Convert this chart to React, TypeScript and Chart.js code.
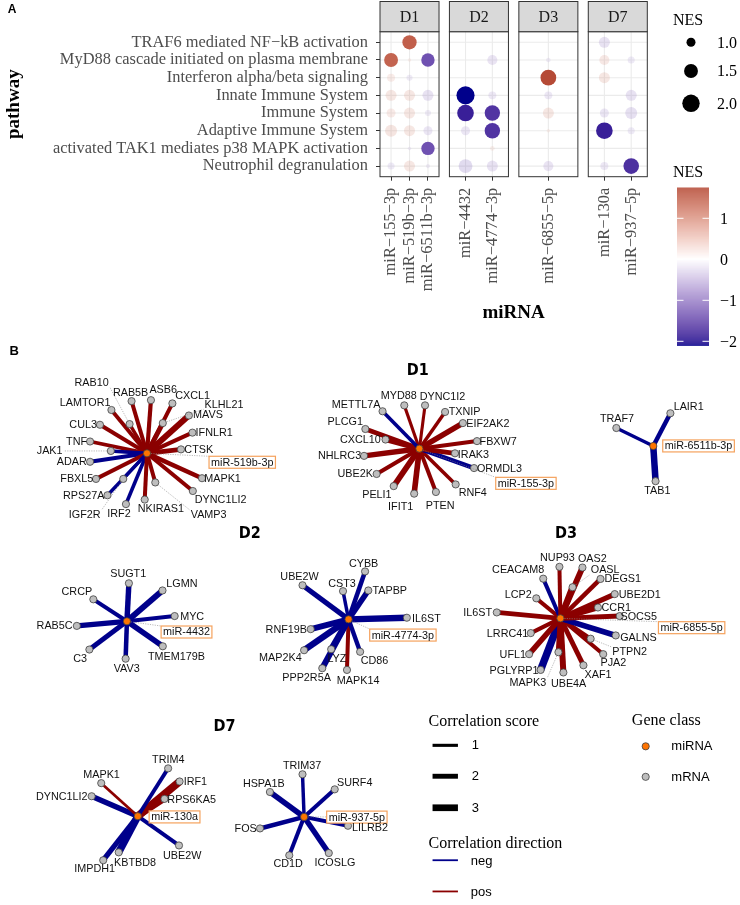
import React, { useEffect, useRef } from "react";
import { Chart, registerables } from "chart.js";
Chart.register(...registerables);

// ================= Panel A data =================
const pathways = [
  "TRAF6 mediated NF−kB activation",
  "MyD88 cascade initiated on plasma membrane",
  "Interferon alpha/beta signaling",
  "Innate Immune System",
  "Immune System",
  "Adaptive Immune System",
  "activated TAK1 mediates p38 MAPK activation",
  "Neutrophil degranulation",
];
const facets = ["D1", "D2", "D3", "D7"];
const mirnasD1 = ["miR−155−3p", "miR−519b−3p", "miR−6511b−3p"];
const mirnasD2 = ["miR−4432", "miR−4774−3p"];
const mirnasD3 = ["miR−6855−5p"];
const mirnasD7 = ["miR−130a", "miR−937−5p"];

// NES for each pathway (pathways order); null = no value
const nes_miR155 = [null, 1.5, 0.92, 1.18, 1.0, 1.28, null, -0.86];
const nes_miR519b = [1.55, 0.69, -0.8, 1.18, 1.18, 1.18, -0.69, 1.18];
const nes_miR6511b = [null, -1.44, null, -1.18, -0.8, -1.0, -1.44, -0.71];
const nes_miR4432 = [null, null, null, -2.11, -1.88, -1.0, null, -1.5];
const nes_miR4774 = [null, -1.09, null, -0.92, -1.7, -1.7, 0.73, -1.18];
const nes_miR6855 = [null, -0.73, 1.75, -0.92, 1.18, 0.69, null, -1.09];
const nes_miR130a = [-1.18, 1.09, 1.18, null, -1.0, -1.88, null, -0.92];
const nes_miR937 = [null, -0.86, null, -1.18, -1.28, -0.86, null, -1.73];
// significance flags (1 = significant)
const sig_miR155 = [0, 1, 0, 0, 0, 0, 0, 0];
const sig_miR519b = [1, 0, 0, 0, 0, 0, 0, 0];
const sig_miR6511b = [0, 1, 0, 0, 0, 0, 1, 0];
const sig_miR4432 = [0, 0, 0, 1, 1, 0, 0, 0];
const sig_miR4774 = [0, 0, 0, 0, 1, 1, 0, 0];
const sig_miR6855 = [0, 0, 1, 0, 0, 0, 0, 0];
const sig_miR130a = [0, 0, 0, 0, 0, 1, 0, 0];
const sig_miR937 = [0, 0, 0, 0, 0, 0, 0, 1];

const sizeLegendValues = [1.0, 1.5, 2.0];
const colorbarTicks = [1, 0, -1, -2];

const facetMirnas = [mirnasD1, mirnasD2, mirnasD3, mirnasD7];
const facetNes = [
  [nes_miR155, nes_miR519b, nes_miR6511b],
  [nes_miR4432, nes_miR4774],
  [nes_miR6855],
  [nes_miR130a, nes_miR937],
];
const facetSig = [
  [sig_miR155, sig_miR519b, sig_miR6511b],
  [sig_miR4432, sig_miR4774],
  [sig_miR6855],
  [sig_miR130a, sig_miR937],
];

// ================= Panel B data (networks) =================
// direction: 1 = pos, -1 = neg ; layout: [nodeX, nodeY, labelX, labelY, leader]
const net519b_genes = ["RAB10", "RAB5B", "ASB6", "CXCL1", "KLHL21", "MAVS", "IFNLR1", "CTSK", "MAPK1", "DYNC1LI2", "VAMP3", "NKIRAS1", "IRF2", "IGF2R", "RPS27A", "FBXL5", "ADAR", "JAK1", "TNF", "CUL3", "LAMTOR1"];
const net519b_dir = [1, 1, 1, 1, 1, 1, 1, 1, 1, 1, 1, 1, -1, -1, -1, 1, -1, -1, 1, 1, 1];
const net519b_score = [1.2, 1.5, 1.6, 1.5, 2.0, 2.6, 1.6, 2.0, 1.8, 1.5, 1.5, 1.5, 1.3, 1.0, 1.2, 1.5, 1.5, 1.3, 1.4, 1.5, 1.4];
const net519b_hub = [144.3, 450.7, 240.7, 459.8, 1];
const net519b_layout = [
  [126.7, 421, 88.3, 378.3, 1], [128.7, 397.7, 127.7, 389.3, 0], [148.3, 396.7, 160.7, 385.7, 0],
  [170, 400, 190.5, 391.7, 0], [160.3, 420, 222.3, 401, 1], [186.7, 412.3, 206, 411.7, 0],
  [190.3, 429.7, 212.3, 429.3, 0], [178.7, 446.7, 196.7, 446.7, 0], [200, 476, 220.8, 476, 0],
  [190.7, 489, 218.8, 497.7, 0], [152.7, 480.3, 206.7, 513.3, 1], [142, 497.7, 158.3, 506.7, 0],
  [123, 502.3, 116, 512, 0], [120.3, 476.7, 81.3, 513.3, 1], [104.3, 493.3, 80.3, 493.3, 0],
  [92.7, 476.7, 73.3, 476.7, 0], [86.7, 459.3, 68.2, 459.3, 0], [107.7, 448.3, 45.8, 447.7, 1],
  [86.7, 438.7, 73, 438.7, 0], [96.7, 421.7, 79.7, 421.7, 0], [108.3, 406.7, 81.7, 399.3, 0],
];

const net155_genes = ["METTL7A", "MYD88", "DYNC1I2", "TXNIP", "EIF2AK2", "FBXW7", "IRAK3", "ORMDL3", "RNF4", "PTEN", "IFIT1", "PELI1", "UBE2K", "NHLRC3", "CXCL10", "PLCG1"];
const net155_dir = [-1, 1, 1, 1, 1, 1, 1, -1, 1, 1, 1, 1, 1, 1, 1, 1];
const net155_score = [1.3, 1.0, 1.0, 1.2, 2.4, 1.5, 2.0, 1.8, 1.3, 1.5, 2.4, 2.5, 1.6, 2.3, 2.2, 1.8];
const net155_hub = [420, 446, 527.8, 481.2, 1];
const net155_layout = [
  [382.7, 408, 356, 401, 0], [404.7, 402, 399.2, 392.3, 0], [425.7, 402, 443.3, 393.3, 0],
  [446, 408.7, 465.8, 408.7, 0], [464, 420, 489.2, 420, 0], [478.3, 438.3, 499.7, 438.3, 0],
  [456, 450.7, 474.7, 452.3, 0], [475.3, 465.7, 501, 466, 0], [456.7, 482.3, 474, 490.7, 0],
  [436.7, 490, 441, 504, 0], [414.7, 491.7, 401, 505, 0], [394, 484, 377, 492.7, 0],
  [376.7, 471.7, 355, 471.7, 0], [364, 453.3, 339.2, 453.3, 0], [385.7, 436.7, 360.3, 436.7, 0],
  [365.3, 426, 345, 418.3, 0],
];

const net6511b_genes = ["TRAF7", "LAIR1", "TAB1"];
const net6511b_dir = [-1, -1, -1];
const net6511b_score = [1.2, 1.8, 2.9];
const net6511b_hub = [656.7, 443.3, 702.5, 443.2, 0];
const net6511b_layout = [
  [619.3, 425, 620, 415.3, 0], [674, 410, 692.5, 403.3, 0], [659, 479, 660.8, 488.3, 0],
];

const net4432_genes = ["SUGT1", "LGMN", "CRCP", "MYC", "RAB5C", "C3", "VAV3", "TMEM179B"];
const net4432_dir = [-1, -1, -1, -1, -1, -1, -1, -1];
const net4432_score = [2.3, 2.6, 1.5, 1.5, 2.2, 2.0, 1.8, 2.4];
const net4432_hub = [124, 621.3, 184.3, 632.2, 1];
const net4432_layout = [
  [126, 582.7, 125.3, 572.7, 0], [160, 590, 179.7, 583.3, 0], [90, 599, 73.3, 591, 0],
  [172.3, 616, 190, 616.3, 0], [73.3, 626, 50.8, 626, 0], [86, 650, 76.7, 659, 0],
  [122.7, 659.3, 123.8, 669.3, 0], [160.3, 646.7, 174.2, 656.7, 0],
];

const net4774_genes = ["CYBB", "UBE2W", "CST3", "TAPBP", "IL6ST", "RNF19B", "CD86", "MAP2K4", "LYZ", "PPP2R5A", "MAPK14"];
const net4774_dir = [-1, -1, -1, -1, -1, -1, -1, -1, -1, -1, 1];
const net4774_score = [1.8, 2.2, 1.2, 2.4, 2.8, 2.6, 1.7, 2.8, 2.8, 2.6, 1.5];
const net4774_hub = [348.3, 619.3, 403.3, 635.3, 1];
const net4774_layout = [
  [365, 570.7, 363.5, 562.3, 0], [301.7, 584.7, 298.7, 575.7, 0], [342.7, 590.7, 341.7, 583.3, 0],
  [368.3, 590, 390, 590, 0], [407.3, 617.7, 427, 618.3, 0], [310, 629.3, 285.3, 629.3, 0],
  [360, 652.3, 374.5, 660.7, 0], [303.3, 650.7, 279.3, 658.3, 0], [330.7, 649.7, 336.5, 659.3, 0],
  [321.7, 669, 305.8, 678.3, 0], [346.7, 670.7, 358, 681, 0],
];

const net6855_genes = ["NUP93", "OAS2", "OASL", "CEACAM8", "DEGS1", "LCP2", "UBE2D1", "CCR1", "SOCS5", "IL6ST", "GALNS", "LRRC41", "PTPN2", "UFL1", "PJA2", "MAPK3", "PGLYRP1", "UBE4A", "XAF1"];
const net6855_dir = [1, 1, 1, -1, 1, 1, 1, 1, 1, 1, -1, 1, 1, 1, 1, 1, -1, 1, 1];
const net6855_score = [1.5, 2.5, 2.8, 1.5, 1.8, 1.5, 2.2, 2.4, 2.0, 2.0, 2.4, 1.6, 1.5, 2.3, 1.5, 2.2, 3.4, 2.6, 2.0];
const net6855_hub = [562.7, 618.3, 695.5, 627.8, 1];
const net6855_layout = [
  [561.7, 566, 559.7, 556.7, 0], [585, 566.7, 595, 557.7, 0], [575, 586.7, 608, 569, 1],
  [545.3, 578, 520, 568.7, 0], [603.3, 578.3, 625.8, 578.3, 0], [538.3, 598, 520, 594.3, 0],
  [617.7, 593.7, 643, 594.3, 0], [600.7, 607.3, 619.2, 607.3, 0], [622.7, 616, 642, 616, 0],
  [498.3, 612.3, 479, 612.3, 0], [618.7, 635.7, 641.7, 638.3, 0], [532.7, 633.3, 509.2, 633.3, 0],
  [593.3, 639, 632.8, 652.3, 1], [531, 654.7, 514.5, 654.7, 0], [606, 654.7, 616.3, 663.3, 0],
  [560.7, 652.7, 529.8, 684, 1], [542.7, 670.7, 515.8, 671.7, 0], [565.7, 673.3, 571, 684.3, 0],
  [586, 666, 600.8, 675.7, 0],
];

const net130a_genes = ["TRIM4", "MAPK1", "IRF1", "RPS6KA5", "DYNC1LI2", "UBE2W", "KBTBD8", "IMPDH1"];
const net130a_dir = [-1, 1, 1, 1, -1, -1, -1, -1];
const net130a_score = [1.4, 0.8, 3.6, 2.5, 2.4, 1.5, 3.4, 2.2];
const net130a_hub = [135, 819.3, 172.2, 820, 0];
const net130a_layout = [
  [165.7, 770.7, 165.8, 762, 0], [98, 785.7, 98.3, 777.3, 0], [177.3, 784, 193.3, 784, 0],
  [162, 801.7, 189.5, 802.7, 0], [88.3, 799, 58, 799, 0], [176.7, 849, 180, 859.3, 0],
  [115.7, 856, 132.2, 866, 0], [100, 864, 91.3, 872.3, 0],
];

const net937_genes = ["TRIM37", "HSPA1B", "SURF4", "LILRB2", "FOS", "CD1D", "ICOSLG"];
const net937_dir = [-1, -1, -1, -1, -1, -1, -1];
const net937_score = [1.2, 2.4, 1.5, 1.5, 1.8, 1.5, 2.3];
const net937_hub = [303.3, 820, 356.7, 820.2, 1];
const net937_layout = [
  [301.7, 776.7, 301.3, 767.3, 0], [268.7, 794.7, 262.5, 786, 0], [334.3, 792, 354.5, 785.3, 0],
  [347.7, 829, 370, 830.8, 0], [258.7, 831.7, 244.2, 831.7, 0], [288.3, 859, 287.2, 867.3, 0],
  [328.3, 856.7, 334.5, 866.7, 0],
];

const networks = [
  { name: "miR-519b-3p", genes: net519b_genes, dir: net519b_dir, score: net519b_score, hub: net519b_hub, layout: net519b_layout },
  { name: "miR-155-3p", genes: net155_genes, dir: net155_dir, score: net155_score, hub: net155_hub, layout: net155_layout },
  { name: "miR-6511b-3p", genes: net6511b_genes, dir: net6511b_dir, score: net6511b_score, hub: net6511b_hub, layout: net6511b_layout },
  { name: "miR-4432", genes: net4432_genes, dir: net4432_dir, score: net4432_score, hub: net4432_hub, layout: net4432_layout },
  { name: "miR-4774-3p", genes: net4774_genes, dir: net4774_dir, score: net4774_score, hub: net4774_hub, layout: net4774_layout },
  { name: "miR-6855-5p", genes: net6855_genes, dir: net6855_dir, score: net6855_score, hub: net6855_hub, layout: net6855_layout },
  { name: "miR-130a", genes: net130a_genes, dir: net130a_dir, score: net130a_score, hub: net130a_hub, layout: net130a_layout },
  { name: "miR-937-5p", genes: net937_genes, dir: net937_dir, score: net937_score, hub: net937_hub, layout: net937_layout },
];
const groupTitles = ["D1", "D2", "D3", "D7"];
const groupTitlePos = [[418.3, 366.7], [248.3, 532.7], [568.3, 532.7], [222.7, 728.3]];
const scoreLegendValues = [1, 2, 3];

// ================= styles / helpers =================
const SERIF = "'Liberation Serif', 'DejaVu Serif', serif";
const SANS = "'Liberation Sans', Arial, 'DejaVu Sans', sans-serif";
const NARROW = "'Liberation Sans Narrow', 'DejaVu Sans Condensed', 'Liberation Sans', sans-serif";
const LOW = "#00008B";
const MID = "#FFFFFF";
const HIGH = "#9E1E12";
const NEG = "#00008B";
const POS = "#8B0000";

function hexToRgb(h: string) {
  const n = parseInt(h.slice(1), 16);
  return [(n >> 16) & 255, (n >> 8) & 255, n & 255];
}
function toLin(c: number) {
  c /= 255;
  return c <= 0.04045 ? c / 12.92 : Math.pow((c + 0.055) / 1.055, 2.4);
}
function fromLin(c: number) {
  const v = c <= 0.0031308 ? 12.92 * c : 1.055 * Math.pow(c, 1 / 2.4) - 0.055;
  return Math.round(Math.max(0, Math.min(1, v)) * 255);
}
function rgbToLab(rgb: number[]) {
  const [r, g, b] = rgb.map(toLin);
  const X = (0.4124564 * r + 0.3575761 * g + 0.1804375 * b) / 0.95047;
  const Y = 0.2126729 * r + 0.7151522 * g + 0.072175 * b;
  const Z = (0.0193339 * r + 0.119192 * g + 0.9503041 * b) / 1.08883;
  const e = Math.pow(6 / 29, 3);
  const f = (t: number) => (t > e ? Math.cbrt(t) : t / (3 * Math.pow(6 / 29, 2)) + 4 / 29);
  const fx = f(X), fy = f(Y), fz = f(Z);
  return [116 * fy - 16, 500 * (fx - fy), 200 * (fy - fz)];
}
function labToRgb(lab: number[]) {
  const [L, a, b] = lab;
  const fy = (L + 16) / 116, fx = fy + a / 500, fz = fy - b / 200;
  const finv = (t: number) => (t > 6 / 29 ? t * t * t : 3 * Math.pow(6 / 29, 2) * (t - 4 / 29));
  const X = finv(fx) * 0.95047, Y = finv(fy), Z = finv(fz) * 1.08883;
  const r = 3.2404542 * X - 1.5371385 * Y - 0.4985314 * Z;
  const g = -0.969266 * X + 1.8760108 * Y + 0.041556 * Z;
  const bb = 0.0556434 * X - 0.2040259 * Y + 1.0572252 * Z;
  return [fromLin(r), fromLin(g), fromLin(bb)];
}
const LAB_LOW = rgbToLab(hexToRgb(LOW));
const LAB_MID = rgbToLab(hexToRgb(MID));
const LAB_HIGH = rgbToLab(hexToRgb(HIGH));

const allNes: number[] = [];
facetNes.forEach((f) => f.forEach((arr) => arr.forEach((v) => { if (v !== null) allNes.push(v as number); })));
const NES_MIN = Math.min(...allNes);
const NES_MAX = Math.max(...allNes);
const NES_ABS = Math.max(Math.abs(NES_MIN), Math.abs(NES_MAX));

function colorFor(v: number, alpha = 1) {
  const t = 0.5 + v / (2 * NES_ABS);
  let lab;
  if (t < 0.5) {
    const f = (0.5 - t) / 0.5;
    lab = LAB_MID.map((m, i) => m + (LAB_LOW[i] - m) * f);
  } else {
    const f = (t - 0.5) / 0.5;
    lab = LAB_MID.map((m, i) => m + (LAB_HIGH[i] - m) * f);
  }
  const [r, g, b] = labToRgb(lab);
  return `rgba(${r},${g},${b},${alpha})`;
}
function sizeFor(v: number) {
  return Math.max(1.5, 7.45 * Math.sqrt(Math.max(0, Math.abs(v) - 0.635)));
}
function edgeWidth(s: number) {
  return 1.3 + 1.8 * s;
}

const GAP = 10.4 / 59;
const panelStart = (k: number) => k * (1 + GAP);
const catX = (k: number, i: number, n: number) => panelStart(k) + (i + 0.6) / (n + 0.2);
const X_MAX = panelStart(3) + 1;

// ================= Panel A plugin =================
const panelAPlugin = {
  id: "panelA",
  beforeDatasetsDraw(chart: any) {
    const { ctx, chartArea } = chart;
    const sx = chart.scales.x, sy = chart.scales.y;
    ctx.save();
    facetMirnas.forEach((mirs, k) => {
      const x0 = sx.getPixelForValue(panelStart(k));
      const x1 = sx.getPixelForValue(panelStart(k) + 1);
      ctx.fillStyle = "#fff";
      ctx.fillRect(x0, chartArea.top, x1 - x0, chartArea.bottom - chartArea.top);
      ctx.strokeStyle = "#EBEBEB";
      ctx.lineWidth = 1.1;
      pathways.forEach((_, r) => {
        const py = sy.getPixelForValue(r + 1);
        ctx.beginPath(); ctx.moveTo(x0, py); ctx.lineTo(x1, py); ctx.stroke();
      });
      mirs.forEach((_, i) => {
        const px = sx.getPixelForValue(catX(k, i, mirs.length));
        ctx.beginPath(); ctx.moveTo(px, chartArea.top); ctx.lineTo(px, chartArea.bottom); ctx.stroke();
      });
    });
    ctx.restore();
  },
  afterDatasetsDraw(chart: any) {
    const { ctx, chartArea } = chart;
    const sx = chart.scales.x;
    ctx.save();
    facetMirnas.forEach((_, k) => {
      const x0 = sx.getPixelForValue(panelStart(k));
      const x1 = sx.getPixelForValue(panelStart(k) + 1);
      ctx.strokeStyle = "#333333";
      ctx.lineWidth = 1;
      ctx.strokeRect(x0, chartArea.top, x1 - x0, chartArea.bottom - chartArea.top);
      const st = 1.5;
      ctx.fillStyle = "#D9D9D9";
      ctx.fillRect(x0, st, x1 - x0, chartArea.top - st);
      ctx.strokeRect(x0, st, x1 - x0, chartArea.top - st);
      ctx.fillStyle = "#1A1A1A";
      ctx.font = `16px ${SERIF}`;
      ctx.textAlign = "center";
      ctx.textBaseline = "middle";
      ctx.fillText(facets[k], (x0 + x1) / 2, (st + chartArea.top) / 2 + 1);
    });
    ctx.restore();
  },
  afterDraw(chart: any) {
    const { ctx } = chart;
    ctx.save();
    ctx.fillStyle = "#000";
    ctx.font = `bold 12px ${SANS}`;
    ctx.textAlign = "center";
    ctx.textBaseline = "middle";
    ctx.fillText("A", 12, 10);
    ctx.textAlign = "left";
    ctx.font = `16px ${SERIF}`;
    ctx.fillText("NES", 673, 21);
    const ys = [42.3, 71, 103.3];
    sizeLegendValues.forEach((v, i) => {
      ctx.fillStyle = "#000";
      ctx.beginPath();
      ctx.arc(691, ys[i], sizeFor(v), 0, Math.PI * 2);
      ctx.fill();
      ctx.fillText(v.toFixed(1), 717, ys[i] + 1);
    });
    ctx.fillText("NES", 673, 173);
    const yFor = (v: number) => 259.3 - 41 * v;
    const top = yFor(NES_MAX), bot = yFor(NES_MIN);
    for (let y = top; y < bot; y += 1) {
      const v = (259.3 - (y + 0.5)) / 41;
      ctx.fillStyle = colorFor(v);
      ctx.fillRect(677, y, 32, Math.min(1.2, bot - y));
    }
    ctx.strokeStyle = "#fff";
    ctx.lineWidth = 1;
    colorbarTicks.forEach((v) => {
      const y = yFor(v);
      ctx.beginPath();
      ctx.moveTo(677, y); ctx.lineTo(683.5, y);
      ctx.moveTo(702.5, y); ctx.lineTo(709, y);
      ctx.stroke();
      ctx.fillStyle = "#000";
      ctx.fillText(v < 0 ? "−" + Math.abs(v) : String(v), 720, y + 1);
    });
    ctx.restore();
  },
};

// ================= Panel B plugin =================
const panelBPlugin = {
  id: "panelB",
  afterDatasetsDraw(chart: any) {
    const ctx = chart.ctx;
    const sx = chart.scales.x, sy = chart.scales.y;
    const X = (v: number) => sx.getPixelForValue(v);
    const Y = (v: number) => sy.getPixelForValue(v);
    ctx.save();
    ctx.font = `10.8px ${SANS}`;
    ctx.textAlign = "center";
    ctx.textBaseline = "middle";
    const items: any[] = [];
    networks.forEach((net) => {
      net.genes.forEach((g, i) => {
        const L = net.layout[i];
        items.push({ text: g, nx: L[0], ny: L[1], lx: L[2], ly: L[3], leader: L[4], box: false });
      });
      const H = net.hub;
      items.push({ text: net.name, nx: H[0], ny: H[1], lx: H[2], ly: H[3], leader: H[4], box: true });
    });
    items.forEach((it) => {
      const w = ctx.measureText(it.text).width + (it.box ? 4 : 2);
      const h = it.box ? 12 : 10;
      const cx = X(it.lx), cy = Y(it.ly);
      it.rect = [cx - w / 2, cy - h / 2, w, h];
      if (it.leader) {
        const px = X(it.nx), py = Y(it.ny);
        const ex = Math.max(cx - w / 2, Math.min(cx + w / 2, px));
        const ey = Math.max(cy - h / 2, Math.min(cy + h / 2, py));
        const d = Math.hypot(ex - px, ey - py) || 1;
        ctx.strokeStyle = "#8c8c8c";
        ctx.lineWidth = 0.6;
        ctx.setLineDash([1.2, 1.2]);
        ctx.beginPath();
        ctx.moveTo(px + ((ex - px) / d) * 4, py + ((ey - py) / d) * 4);
        ctx.lineTo(ex, ey);
        ctx.stroke();
        ctx.setLineDash([]);
      }
    });
    items.filter((it) => it.box).forEach((it) => {
      const [rx, ry, rw, rh] = it.rect;
      ctx.fillStyle = "#fff";
      ctx.fillRect(rx, ry, rw, rh);
      ctx.strokeStyle = "#F5A25D";
      ctx.lineWidth = 1.2;
      ctx.strokeRect(rx, ry, rw, rh);
    });
    items.forEach((it) => {
      const [rx, ry, rw, rh] = it.rect;
      ctx.fillStyle = "#111";
      ctx.fillText(it.text, rx + rw / 2, ry + rh / 2 + 0.5);
    });
    ctx.font = `bold 16px ${NARROW}`;
    ctx.fillStyle = "#000";
    groupTitles.forEach((t, i) => ctx.fillText(t, X(groupTitlePos[i][0]), Y(groupTitlePos[i][1])));
    ctx.font = `bold 13px ${SANS}`;
    ctx.fillText("B", X(10), Y(347));

    ctx.textAlign = "left";
    ctx.font = `16px ${SERIF}`;
    ctx.fillText("Correlation score", X(429.3), Y(723.5));
    ctx.fillText("Correlation direction", X(429.3), Y(847));
    ctx.fillText("Gene class", X(635), Y(722.5));
    ctx.font = `13px ${SANS}`;
    const sy0 = [747.3, 778.7, 810.7];
    scoreLegendValues.forEach((s, i) => {
      ctx.strokeStyle = "#000";
      ctx.lineWidth = edgeWidth(s);
      ctx.beginPath(); ctx.moveTo(X(433.3), Y(sy0[i])); ctx.lineTo(X(459), Y(sy0[i])); ctx.stroke();
      ctx.fillStyle = "#000";
      ctx.fillText(String(s), X(473), Y(sy0[i] + 0.5));
    });
    const dirs = [["neg", NEG, 864], ["pos", POS, 895.7]];
    dirs.forEach(([lab, col, yy]: any) => {
      ctx.strokeStyle = col;
      ctx.lineWidth = 1.8;
      ctx.beginPath(); ctx.moveTo(X(433.3), Y(yy)); ctx.lineTo(X(459), Y(yy)); ctx.stroke();
      ctx.fillStyle = "#000";
      ctx.fillText(lab, X(472), Y(yy + 1));
    });
    const classes = [["miRNA", "#FF7400", 748.3], ["mRNA", "#BEBEBE", 779.3]];
    classes.forEach(([lab, col, yy]: any) => {
      ctx.fillStyle = col;
      ctx.strokeStyle = "#404040";
      ctx.lineWidth = 0.8;
      ctx.beginPath(); ctx.arc(X(649), Y(yy), 3.6, 0, Math.PI * 2); ctx.fill(); ctx.stroke();
      ctx.fillStyle = "#000";
      ctx.fillText(lab, X(675), Y(yy + 0.5));
    });
    ctx.restore();
  },
};

function buildA() {
  const tickVals: number[] = [];
  const tickLabels: string[] = [];
  const points: any[] = [];
  facetMirnas.forEach((mirs, k) =>
    mirs.forEach((name, i) => {
      const xv = catX(k, i, mirs.length);
      tickVals.push(xv);
      tickLabels.push(name);
      facetNes[k][i].forEach((v, r) => {
        if (v !== null) points.push({ x: xv, y: r + 1, nes: v, sig: facetSig[k][i][r] });
      });
    })
  );
  return {
    type: "scatter",
    data: {
      datasets: [
        {
          data: points,
          pointRadius: (c: any) => (c.raw ? sizeFor(c.raw.nes) : 0),
          pointHoverRadius: (c: any) => (c.raw ? sizeFor(c.raw.nes) : 0),
          backgroundColor: (c: any) => (c.raw ? colorFor(c.raw.nes, c.raw.sig ? 1 : 0.2) : "rgba(0,0,0,0)"),
          borderWidth: 0,
        },
      ],
    },
    options: {
      responsive: false,
      animation: false,
      events: [],
      layout: { padding: { left: 0, right: 740 - 647.3, top: 31.7, bottom: 26.3 } },
      plugins: { legend: { display: false }, tooltip: { enabled: false } },
      scales: {
        x: {
          type: "linear",
          min: 0,
          max: X_MAX,
          afterBuildTicks: (s: any) => { s.ticks = tickVals.map((v) => ({ value: v })); },
          afterFit: (s: any) => { s.height = 152; },
          ticks: {
            autoSkip: false, minRotation: 90, maxRotation: 90, padding: 7, color: "#4D4D4D",
            font: { family: SERIF, size: 16.4 },
            callback: (_v: any, i: number) => tickLabels[i],
          },
          grid: { drawOnChartArea: false, drawTicks: true, tickLength: 4, tickColor: "#333333", lineWidth: 1 },
          border: { display: false },
          title: { display: true, text: "miRNA", color: "#000", font: { family: SERIF, size: 19, weight: "bold" }, padding: { top: 0, bottom: 4 } },
        },
        y: {
          type: "linear",
          min: 0.4,
          max: 8.6,
          reverse: true,
          afterBuildTicks: (s: any) => { s.ticks = pathways.map((_, i) => ({ value: i + 1 })); },
          afterFit: (s: any) => { s.width = 380; },
          ticks: {
            autoSkip: false, padding: 8, color: "#4D4D4D",
            font: { family: SERIF, size: 16.4 },
            callback: (_v: any, i: number) => pathways[i],
          },
          grid: { drawOnChartArea: false, drawTicks: true, tickLength: 4, tickColor: "#333333", lineWidth: 1 },
          border: { display: false },
          title: { display: true, text: "pathway", color: "#000", font: { family: SERIF, size: 19, weight: "bold" }, padding: { top: 3, bottom: 0 } },
        },
      },
    },
    plugins: [panelAPlugin],
  };
}

function buildB() {
  const edgeSets: any[] = [];
  const mrna: any[] = [];
  const hubs: any[] = [];
  networks.forEach((net) => {
    hubs.push({ x: net.hub[0], y: net.hub[1] });
    net.genes.forEach((_, i) => {
      const L = net.layout[i];
      mrna.push({ x: L[0], y: L[1] });
      edgeSets.push({
        data: [{ x: net.hub[0], y: net.hub[1] }, { x: L[0], y: L[1] }],
        showLine: true,
        borderColor: net.dir[i] > 0 ? POS : NEG,
        borderWidth: edgeWidth(net.score[i]),
        borderCapStyle: "butt",
        pointRadius: 0,
        pointHoverRadius: 0,
        order: 5,
      });
    });
  });
  return {
    type: "scatter",
    data: {
      datasets: [
        ...edgeSets,
        { data: mrna, pointRadius: 3.6, pointHoverRadius: 3.6, backgroundColor: "#BEBEBE", borderColor: "#404040", borderWidth: 0.8, order: 2 },
        { data: hubs, pointRadius: 3.6, pointHoverRadius: 3.6, backgroundColor: "#FF7400", borderColor: "#404040", borderWidth: 0.8, order: 1 },
      ],
    },
    options: {
      responsive: false,
      animation: false,
      events: [],
      layout: { padding: 0 },
      plugins: { legend: { display: false }, tooltip: { enabled: false } },
      scales: {
        x: { type: "linear", min: 0, max: 740, display: false },
        y: { type: "linear", min: 335, max: 905, reverse: true, display: false },
      },
    },
    plugins: [panelBPlugin],
  };
}

export default function App() {
  const refA = useRef<HTMLCanvasElement>(null);
  const refB = useRef<HTMLCanvasElement>(null);
  useEffect(() => {
    document.body.style.margin = "0";
    const a = new Chart(refA.current as HTMLCanvasElement, buildA() as any);
    const b = new Chart(refB.current as HTMLCanvasElement, buildB() as any);
    return () => {
      a.destroy();
      b.destroy();
    };
  }, []);
  return (
    <div style={{ position: "relative", width: 740, height: 905, background: "#fff" }}>
      <canvas ref={refA} width={740} height={355} style={{ position: "absolute", left: 0, top: 0, width: 740, height: 355 }} />
      <canvas ref={refB} width={740} height={570} style={{ position: "absolute", left: 0, top: 335, width: 740, height: 570 }} />
    </div>
  );
}
